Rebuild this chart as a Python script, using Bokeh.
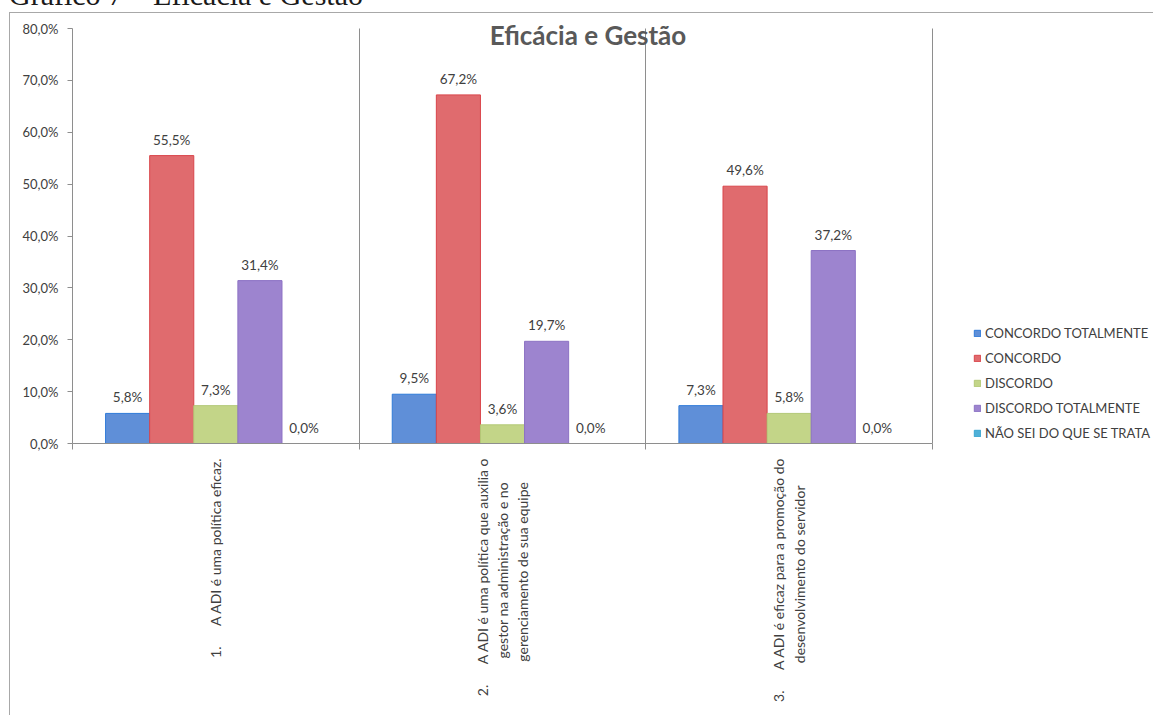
import math
from bokeh.plotting import figure
from bokeh.models import (ColumnDataSource, FixedTicker, Label, Legend, LegendItem,
                          Range1d, Div, Grid)
from bokeh.layouts import column
from bokeh.transform import dodge
from bokeh.core.properties import value
from bokeh.embed import file_html
from bokeh.resources import INLINE

# ---------------- data ----------------
heading = "Gráfico 7 – Eficácia e Gestão"
chart_title = "Eficácia e Gestão"
category_numbers = ["1.", "2.", "3."]
category_lines = [
    ["A ADI é uma política eficaz."],
    ["A ADI é uma política que auxilia o", "gestor na administração e no", "gerenciamento de sua equipe"],
    ["A ADI é eficaz para a promoção do", "desenvolvimento do servidor"],
]
series_names = ["CONCORDO TOTALMENTE", "CONCORDO", "DISCORDO",
                "DISCORDO TOTALMENTE", "NÃO SEI DO QUE SE TRATA"]
concordo_totalmente = [5.8, 9.5, 7.3]
concordo = [55.5, 67.2, 49.6]
discordo = [7.3, 3.6, 5.8]
discordo_totalmente = [31.4, 19.7, 37.2]
nao_sei = [0.0, 0.0, 0.0]
y_ticks = [0, 10, 20, 30, 40, 50, 60, 70, 80]

series_values = [concordo_totalmente, concordo, discordo, discordo_totalmente, nao_sei]

# ---------------- styles / layout ----------------
fill_colors = ["#5f8fd8", "#e06b6e", "#c3d588", "#9d84cf", "#4fb0d8"]
line_colors = ["#2f7ad8", "#d9454a", "#b3c977", "#8c72c4", "#3aa6d0"]
FONT = "Lato"
TXT = "#404040"
GRID = "#8e8e8e"
CAT_FONT_PX = 14

W, H = 1144, 703
LEFT = 62
CAT_W = 860 / 3                 # pixel width of one category
AXIS_H = 415                    # pixel height of the 0..80 % span
EXTRA_TOP = 14                  # room above 80 % for the chart title
TOP = 15 - EXTRA_TOP
RIGHT = 2
FRAME_W = W - LEFT - RIGHT
BOTTOM = H - TOP - AXIS_H - EXTRA_TOP

n_cat = len(category_numbers)
y_max = y_ticks[-1]
px_y = AXIS_H / y_max           # pixels per percent


def gap(px, size=CAT_FONT_PX):
    """build a run of fixed-width spaces about px pixels wide"""
    em, en, nb = size, size / 2, 0.193 * size
    n_em = int(px // em); px -= n_em * em
    n_en = int(px // en); px -= n_en * en
    n_nb = int(round(px / nb))
    return "\u2003" * n_em + "\u2002" * n_en + "\u00a0" * n_nb


NUM_GAP_PX = 23                       # space between item number and its text
CONT_PAD_PX = [[], [31, 30], [35]]    # keeps wrapped lines left aligned (Excel style)

p = figure(width=W, height=H, x_range=Range1d(0, FRAME_W / CAT_W),
           y_range=Range1d(0, y_max + EXTRA_TOP / px_y),
           output_backend="svg", toolbar_location=None,
           min_border_left=LEFT, min_border_right=RIGHT,
           min_border_top=TOP, min_border_bottom=BOTTOM)
p.styles = {"border-left": "1px solid #a8a8a8", "border-top": "1px solid #a8a8a8",
            "margin-left": "9px"}
p.outline_line_color = None
p.background_fill_color = "white"
p.border_fill_color = "white"

# y axis
p.yaxis.bounds = (0, y_max)
p.yaxis.ticker = FixedTicker(ticks=y_ticks)
p.yaxis.major_label_overrides = {t: f"{t:.1f}".replace(".", ",") + "%" for t in y_ticks}
p.yaxis.major_label_text_font = FONT
p.yaxis.major_label_text_font_size = "13px"
p.yaxis.major_label_text_color = TXT
p.yaxis.major_label_standoff = 9
p.yaxis.axis_line_color = GRID
p.yaxis.major_tick_line_color = GRID
p.yaxis.major_tick_out = 5
p.yaxis.major_tick_in = 0
p.yaxis.minor_tick_line_color = None

# x axis: category labels at centres, separator ticks at boundaries
bounds = list(range(n_cat + 1))
centers = [i + 0.5 for i in range(n_cat)]
overrides = {}
for i, c in enumerate(centers):
    lines = category_lines[i]
    out = [category_numbers[i] + gap(NUM_GAP_PX) + lines[0]]
    for k, t in enumerate(lines[1:]):
        out.append(t + gap(CONT_PAD_PX[i][k]))
    overrides[c] = "\n".join(out)
p.xaxis.bounds = (0, n_cat)
p.xaxis.ticker = FixedTicker(ticks=centers, minor_ticks=bounds)
p.xaxis.major_label_overrides = overrides
p.xaxis.major_label_orientation = math.pi / 2
p.xaxis.major_label_text_font = FONT
p.xaxis.major_label_text_font_size = f"{CAT_FONT_PX}px"
p.xaxis.major_label_text_color = TXT
p.xaxis.major_label_standoff = 8
p.xaxis.axis_line_color = GRID
p.xaxis.major_tick_line_color = None
p.xaxis.major_tick_out = 0
p.xaxis.minor_tick_line_color = GRID
p.xaxis.minor_tick_out = 6
p.xaxis.minor_tick_in = 0

p.ygrid.grid_line_color = None
if "cross_bounds" in Grid.properties():
    p.xgrid.ticker = FixedTicker(ticks=bounds)
    p.xgrid.grid_line_color = GRID
    p.xgrid.cross_bounds = (0, y_max)
else:
    p.xgrid.grid_line_color = None
    p.segment(x0=bounds, y0=[0] * len(bounds), x1=bounds, y1=[y_max] * len(bounds),
              line_color=GRID, line_width=1)

# bars + value labels
n_ser = len(series_names)
bw = 1.0 / (n_ser + 1.5)
src = {"x": centers}
for j, vals in enumerate(series_values):
    src[f"s{j}"] = vals
    src[f"l{j}"] = [f"{v:.1f}".replace(".", ",") + "%" for v in vals]
source = ColumnDataSource(src)

items = []
for j, name in enumerate(series_names):
    off = (j - (n_ser - 1) / 2) * bw
    r = p.vbar(x=dodge("x", off, range=p.x_range), top=f"s{j}", width=bw, bottom=0,
               source=source, fill_color=fill_colors[j], line_color=line_colors[j],
               line_width=1)
    p.text(x=dodge("x", off, range=p.x_range), y=f"s{j}", text=f"l{j}", source=source,
           text_align="center", text_baseline="bottom", y_offset=-8,
           text_font=value(FONT), text_font_size="13.5px", text_color=TXT)
    items.append(LegendItem(label=name, renderers=[r]))

legend = Legend(items=items, location=(901, 1), orientation="vertical",
                glyph_width=8, glyph_height=8, label_standoff=4, spacing=7,
                label_height=18, padding=0, margin=0, border_line_color=None,
                background_fill_alpha=0, label_text_font=FONT,
                label_text_font_size="13px", label_text_color=TXT)
p.add_layout(legend, "center")

# chart title (inside plot area, as in the original)
p.add_layout(Label(x=515.5 / CAT_W, y=409 / px_y, text=chart_title,
                   text_font=FONT, text_font_style="bold", text_font_size="26px",
                   text_color="#595959", text_align="center", text_baseline="alphabetic"))

head = Div(text=f'<div style="position:relative;top:-25px;left:4px;font-family:\'Liberation Serif\';'
                f'font-size:30px;line-height:30px;white-space:nowrap;color:#1a1a1a">{heading}</div>',
           width=600, height=2)

root = column(head, p)
open("out.html", "w").write(file_html(root, INLINE))
